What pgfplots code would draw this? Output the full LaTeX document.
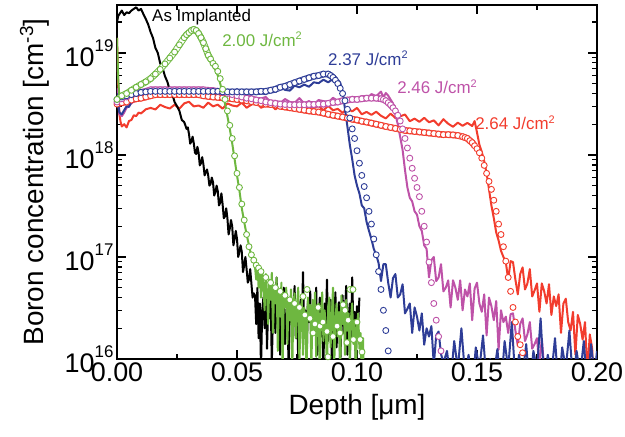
\documentclass[border=0pt]{standalone}
\usepackage{pgfplots}
\usepackage{pgfplotstable}
\pgfplotsset{compat=1.18}
\usepackage{fontspec}
\setmainfont{Liberation Sans}
\definecolor{cgreen}{RGB}{110,183,64}
\definecolor{cblue}{RGB}{46,61,151}
\definecolor{cmag}{RGB}{190,82,168}
\definecolor{cred}{RGB}{242,60,45}
\newcommand\tsup[1]{\raisebox{15bp}{\fontsize{17}{17}\selectfont #1}}
\newcommand\lsup[1]{\raisebox{6.5bp}{\fontsize{11}{11}\selectfont #1}}
% simulated profiles (open circles)
\pgfplotstableread[row sep=\\]{
x y\\ 0 3.15e18\\ 0.002 3.25e18\\ 0.004 3.3e18\\ 0.006 3.45e18\\ 0.008 3.55e18\\ 0.010 3.6e18\\ 0.012 3.7e18\\ 0.014 3.8e18\\ 0.016 3.9e18\\ 0.018 3.9e18\\ 0.020 3.9e18\\ 0.022 3.9e18\\ 0.024 3.9e18\\ 0.026 3.9e18\\ 0.028 3.9e18\\ 0.030 3.9e18\\ 0.032 3.9e18\\ 0.034 3.9e18\\ 0.036 3.8e18\\ 0.038 3.75e18\\ 0.040 3.7e18\\ 0.042 3.67e18\\ 0.044 3.63e18\\ 0.046 3.6e18\\ 0.048 3.55e18\\ 0.050 3.5e18\\ 0.052 3.45e18\\ 0.054 3.4e18\\ 0.056 3.33e18\\ 0.058 3.27e18\\ 0.060 3.2e18\\ 0.062 3.15e18\\ 0.064 3.12e18\\ 0.066 3.08e18\\ 0.068 3.0e18\\ 0.070 2.95e18\\ 0.072 2.9e18\\ 0.074 2.85e18\\ 0.076 2.8e18\\ 0.078 2.75e18\\ 0.080 2.7e18\\ 0.082 2.66e18\\ 0.084 2.63e18\\ 0.086 2.57e18\\ 0.088 2.5e18\\ 0.090 2.45e18\\ 0.092 2.4e18\\ 0.094 2.35e18\\ 0.096 2.3e18\\ 0.098 2.24e18\\ 0.100 2.2e18\\ 0.102 2.14e18\\ 0.104 2.1e18\\ 0.106 2.05e18\\ 0.108 2.0e18\\ 0.110 1.95e18\\ 0.112 1.9e18\\ 0.114 1.86e18\\ 0.116 1.82e18\\ 0.118 1.78e18\\ 0.120 1.74e18\\ 0.122 1.72e18\\ 0.124 1.7e18\\ 0.126 1.68e18\\ 0.128 1.66e18\\ 0.130 1.64e18\\ 0.132 1.62e18\\ 0.134 1.6e18\\ 0.136 1.58e18\\ 0.138 1.58e18\\ 0.140 1.57e18\\ 0.142 1.55e18\\ 0.144 1.51e18\\ 0.145 1.48e18\\ 0.146 1.45e18\\ 0.147 1.38e18\\ 0.148 1.32e18\\ 0.149 1.23e18\\ 0.150 1.15e18\\ 0.151 1.05e18\\ 0.152 9.3e17\\ 0.153 7.9e17\\ 0.154 6.6e17\\ 0.155 5.5e17\\ 0.156 4.6e17\\ 0.157 3.6e17\\ 0.158 2.8e17\\ 0.159 2.1e17\\ 0.160 1.66e17\\ 0.161 1.26e17\\ 0.162 9.1e16\\ 0.163 6.3e16\\ 0.164 4.6e16\\ 0.165 3.2e16\\ 0.166 2.3e16\\ 0.167 1.66e16\\ 0.168 1.38e16\\ 0.169 1.15e16\\ 0.170 9.3e15\\
}\simred
\pgfplotstableread[row sep=\\]{
x y\\ 0 3.3e18\\ 0.002 3.55e18\\ 0.004 3.7e18\\ 0.006 3.9e18\\ 0.008 4.0e18\\ 0.010 4.1e18\\ 0.012 4.2e18\\ 0.014 4.35e18\\ 0.016 4.35e18\\ 0.018 4.35e18\\ 0.020 4.35e18\\ 0.022 4.35e18\\ 0.024 4.35e18\\ 0.026 4.35e18\\ 0.028 4.35e18\\ 0.030 4.35e18\\ 0.032 4.35e18\\ 0.034 4.35e18\\ 0.036 4.35e18\\ 0.038 4.3e18\\ 0.040 4.27e18\\ 0.042 4.2e18\\ 0.044 4.1e18\\ 0.046 4.0e18\\ 0.048 3.9e18\\ 0.050 3.8e18\\ 0.052 3.7e18\\ 0.054 3.6e18\\ 0.056 3.55e18\\ 0.058 3.45e18\\ 0.060 3.4e18\\ 0.062 3.3e18\\ 0.064 3.25e18\\ 0.066 3.2e18\\ 0.068 3.15e18\\ 0.070 3.12e18\\ 0.072 3.1e18\\ 0.074 3.1e18\\ 0.076 3.1e18\\ 0.078 3.1e18\\ 0.080 3.12e18\\ 0.082 3.12e18\\ 0.084 3.15e18\\ 0.086 3.15e18\\ 0.088 3.2e18\\ 0.090 3.27e18\\ 0.092 3.3e18\\ 0.094 3.4e18\\ 0.096 3.45e18\\ 0.098 3.5e18\\ 0.100 3.5e18\\ 0.102 3.55e18\\ 0.104 3.6e18\\ 0.106 3.6e18\\ 0.108 3.6e18\\ 0.110 3.55e18\\ 0.111 3.5e18\\ 0.112 3.4e18\\ 0.113 3.25e18\\ 0.114 3.1e18\\ 0.115 2.9e18\\ 0.116 2.7e18\\ 0.117 2.45e18\\ 0.118 2.15e18\\ 0.119 1.8e18\\ 0.120 1.45e18\\ 0.121 1.17e18\\ 0.122 9.3e17\\ 0.123 7.4e17\\ 0.124 5.9e17\\ 0.125 4.8e17\\ 0.126 3.9e17\\ 0.127 2.8e17\\ 0.128 2.0e17\\ 0.129 1.4e17\\ 0.130 8.9e16\\ 0.131 5.6e16\\ 0.132 3.5e16\\ 0.133 2.4e16\\ 0.134 1.66e16\\ 0.135 1.2e16\\ 0.136 8.9e15\\
}\simmag
\pgfplotstableread[row sep=\\]{
x y\\ 0 3.5e18\\ 0.002 3.7e18\\ 0.004 3.8e18\\ 0.006 3.9e18\\ 0.008 4.0e18\\ 0.010 4.1e18\\ 0.012 4.15e18\\ 0.014 4.2e18\\ 0.016 4.2e18\\ 0.018 4.2e18\\ 0.020 4.2e18\\ 0.022 4.2e18\\ 0.024 4.2e18\\ 0.026 4.2e18\\ 0.028 4.2e18\\ 0.030 4.2e18\\ 0.032 4.2e18\\ 0.034 4.2e18\\ 0.036 4.2e18\\ 0.038 4.2e18\\ 0.040 4.2e18\\ 0.042 4.2e18\\ 0.044 4.15e18\\ 0.046 4.15e18\\ 0.048 4.15e18\\ 0.050 4.15e18\\ 0.052 4.15e18\\ 0.054 4.15e18\\ 0.056 4.15e18\\ 0.058 4.15e18\\ 0.060 4.2e18\\ 0.062 4.2e18\\ 0.064 4.3e18\\ 0.066 4.4e18\\ 0.068 4.6e18\\ 0.070 4.7e18\\ 0.072 4.9e18\\ 0.074 5.1e18\\ 0.076 5.3e18\\ 0.078 5.5e18\\ 0.080 5.7e18\\ 0.082 5.9e18\\ 0.084 6.0e18\\ 0.086 6.2e18\\ 0.088 6.2e18\\ 0.089 6.0e18\\ 0.090 5.75e18\\ 0.091 5.4e18\\ 0.092 5.0e18\\ 0.093 4.5e18\\ 0.094 4.0e18\\ 0.095 3.4e18\\ 0.096 2.8e18\\ 0.097 2.3e18\\ 0.098 1.8e18\\ 0.099 1.45e18\\ 0.100 1.1e18\\ 0.101 8.3e17\\ 0.102 6.3e17\\ 0.103 4.9e17\\ 0.104 3.8e17\\ 0.105 2.8e17\\ 0.106 2.1e17\\ 0.107 1.5e17\\ 0.108 1.05e17\\ 0.109 7.2e16\\ 0.110 4.8e16\\ 0.111 3.0e16\\ 0.112 1.9e16\\ 0.113 1.2e16\\ 0.114 8e15\\
}\simblue
\pgfplotstableread[row sep=\\]{
x y\\ 0 3.5e18\\ 0.002 3.8e18\\ 0.004 4.0e18\\ 0.006 4.3e18\\ 0.008 4.6e18\\ 0.010 4.9e18\\ 0.012 5.2e18\\ 0.014 5.6e18\\ 0.016 6.2e18\\ 0.018 6.9e18\\ 0.020 7.8e18\\ 0.022 8.9e18\\ 0.024 1.02e19\\ 0.026 1.2e19\\ 0.028 1.41e19\\ 0.029 1.51e19\\ 0.030 1.58e19\\ 0.031 1.66e19\\ 0.032 1.7e19\\ 0.033 1.66e19\\ 0.034 1.55e19\\ 0.035 1.41e19\\ 0.036 1.26e19\\ 0.037 1.1e19\\ 0.038 9.5e18\\ 0.039 8.7e18\\ 0.040 7.9e18\\ 0.041 7.4e18\\ 0.042 6.6e18\\ 0.043 5.6e18\\ 0.044 4.4e18\\ 0.045 3.5e18\\ 0.046 2.7e18\\ 0.047 1.95e18\\ 0.048 1.45e18\\ 0.049 9.8e17\\ 0.050 6.6e17\\ 0.051 4.8e17\\ 0.052 3.3e17\\ 0.053 2.3e17\\ 0.054 1.66e17\\ 0.055 1.26e17\\ 0.056 1.05e17\\ 0.057 9.3e16\\ 0.058 8.3e16\\ 0.059 7.8e16\\ 0.060 7.2e16\\ 0.062 6.3e16\\ 0.064 5.6e16\\ 0.066 5.0e16\\ 0.068 4.6e16\\ 0.070 4.2e16\\ 0.072 3.8e16\\ 0.074 3.5e16\\ 0.076 3.2e16\\ 0.0775 4.1e16\\ 0.0783 2.7e16\\ 0.0792 4.8e16\\ 0.0804 2.5e16\\ 0.0817 1.8e16\\ 0.0825 2.2e16\\ 0.0838 3.2e16\\ 0.0846 2.1e16\\ 0.0858 2.3e16\\ 0.0875 1.86e16\\ 0.0879 1.05e16\\ 0.0900 1.66e16\\ 0.0917 2.1e16\\ 0.0929 1.8e16\\ 0.0942 3.4e16\\ 0.0950 3.0e16\\ 0.0958 1.45e16\\ 0.0963 2.4e16\\ 0.0971 4.8e16\\ 0.0983 4.8e16\\ 0.0985 1.55e16\\ 0.1000 2.3e16\\ 0.1013 1.55e16\\ 0.1021 1.17e16\\
}\simgreen
\begin{document}
\begin{tikzpicture}
\begin{axis}[
  scale only axis, width=480bp, height=354bp,
  ymode=log, xmin=0, xmax=0.2, ymin=1e16, ymax=2.95e19,
  xtick={0,0.05,0.1,0.15,0.2},
  xticklabels={0.00,0.05,0.10,0.15,0.20},
  minor xtick={0.025,0.075,0.125,0.175},
  ytick={1e16,1e17,1e18,1e19},
  yticklabels={10\tsup{16},10\tsup{17},10\tsup{18},10\tsup{19}},
  minor ytick={2e16,3e16,4e16,5e16,6e16,7e16,8e16,9e16,2e17,3e17,4e17,5e17,6e17,7e17,8e17,9e17,2e18,3e18,4e18,5e18,6e18,7e18,8e18,9e18,2e19},
  tick align=inside, major tick length=9bp, minor tick length=5bp,
  axis line style={line width=2.2bp},
  every tick/.style={line width=1.4bp, black},
  tick label style={font=\fontsize{27}{30}\selectfont},
  xlabel={Depth [μm]},
  ylabel={Boron concentration [cm\raisebox{10bp}{\fontsize{19}{19}\selectfont -3}]},
  label style={font=\fontsize{28}{32}\selectfont, inner sep=0pt},
  xlabel style={at={(axis description cs:0.5,-0.158)}, anchor=base},
  ylabel style={at={(axis description cs:-0.154,0.5)}, anchor=base},
  every axis plot/.append style={line join=round},
  sims/.style={line width=2bp, no markers},
  tube/.style={no markers, line width=0.9bp, double=white, double distance=4.8bp},
  simu/.style={only marks, mark=*, mark size=3bp, mark options={fill=white, line width=0.9bp}},
]
% ---------- red SIMS 2.64
\addplot[sims, cred] coordinates {
(0,1.4e19)(0.0005,5.0e18)(0.001,2.5e18)(0.0015,2.1e18)(0.002,1.9e18)(0.003,2.0e18)(0.004,1.86e18)(0.005,2.15e18)(0.006,2.2e18)(0.007,2.45e18)(0.008,2.4e18)(0.009,2.6e18)(0.010,2.55e18)(0.012,2.8e18)
(0.014,2.89e18)(0.016,2.79e18)(0.018,3.1e18)(0.020,2.95e18)(0.022,2.85e18)(0.024,3.11e18)(0.026,2.84e18)(0.028,3.2e18)(0.030,3.32e18)(0.032,2.99e18)(0.034,3.05e18)(0.036,2.9e18)(0.038,3.26e18)(0.040,2.99e18)(0.042,3.11e18)(0.044,2.84e18)(0.046,3.2e18)(0.048,3.05e18)(0.050,2.99e18)(0.052,3.26e18)(0.054,2.9e18)(0.056,3.11e18)(0.058,3.32e18)(0.060,2.9e18)(0.062,3.03e18)(0.064,3.17e18)(0.066,2.79e18)(0.068,3.05e18)(0.070,2.91e18)(0.072,3.11e18)(0.074,3.29e18)(0.076,2.84e18)(0.078,3.03e18)(0.080,2.73e18)(0.082,2.9e18)(0.084,3.02e18)(0.086,2.74e18)(0.088,3.02e18)(0.090,2.74e18)(0.092,2.83e18)(0.094,2.58e18)(0.096,2.86e18)(0.098,2.67e18)(0.100,2.89e18)(0.102,2.5e18)(0.104,2.64e18)(0.106,2.47e18)(0.108,2.65e18)(0.110,2.42e18)(0.112,2.28e18)(0.114,2.54e18)(0.116,2.3e18)(0.118,2.39e18)(0.120,2.49e18)(0.122,2.14e18)(0.124,2.27e18)(0.126,2.11e18)(0.128,2.31e18)(0.130,2.09e18)(0.132,2.18e18)(0.134,1.95e18)(0.136,2.24e18)(0.138,2.02e18)(0.140,1.89e18)(0.142,2.07e18)(0.144,1.93e18)(0.146,2.06e18)(0.148,1.92e18)(0.149,2.15e18)(0.150,1.66e18)
(0.151,1.26e18)(0.152,1.07e18)(0.153,8.7e17)(0.154,6.6e17)(0.155,4.6e17)(0.156,3.2e17)(0.157,2.4e17)(0.158,1.74e17)(0.159,1.45e17)(0.160,1.15e17)(0.161,1.0e17)
(0.162,8.9e16)(0.163,6.0e16)(0.164,9.1e16)(0.165,8.9e16)(0.166,6.0e16)(0.167,4.3e16)(0.168,6.8e16)(0.169,7.9e16)(0.170,4.8e16)(0.171,5.5e16)(0.172,7.6e16)(0.173,4.1e16)(0.174,4.7e16)(0.175,5.5e16)(0.176,2.9e16)(0.177,5.5e16)(0.178,4.6e16)(0.179,3.5e16)(0.180,5.4e16)(0.181,2.7e16)(0.182,4.1e16)(0.183,3.3e16)(0.184,4.3e16)(0.185,1.8e16)(0.186,3.5e16)(0.187,3.9e16)(0.188,2.3e16)(0.189,1.9e16)(0.190,2.9e16)(0.191,1.1e16)(0.192,2.7e16)(0.193,2.2e16)(0.194,1.55e16)(0.195,2.3e16)(0.196,7.4e15)(0.197,1.74e16)(0.198,1.26e16)(0.1985,6e15)
};
\addplot[tube, cred, restrict x to domain=0:0.149] table {\simred};
\addplot[simu, cred] table {\simred};
% ---------- magenta SIMS 2.46
\addplot[sims, cmag] coordinates {
(0,4.5e18)(0.0005,3.2e18)(0.001,2.5e18)(0.002,2.4e18)(0.003,2.6e18)(0.004,2.9e18)(0.006,3.2e18)(0.008,3.5e18)(0.010,3.6e18)(0.012,3.9e18)(0.014,3.8e18)
(0.016,4.08e18)(0.018,3.88e18)(0.020,4.2e18)(0.022,4.0e18)(0.024,3.8e18)(0.026,4.12e18)(0.028,4.28e18)(0.030,3.92e18)(0.032,4.04e18)(0.034,3.82e18)(0.036,4.19e18)(0.038,3.92e18)(0.040,3.78e18)(0.042,4.02e18)(0.044,3.79e18)(0.046,4.07e18)(0.048,3.6e18)(0.050,3.77e18)(0.052,3.59e18)(0.054,3.8e18)(0.056,3.57e18)(0.058,3.34e18)(0.060,3.57e18)(0.062,3.7e18)(0.064,3.3e18)(0.066,3.4e18)(0.068,3.22e18)(0.070,3.53e18)(0.072,3.31e18)(0.074,3.23e18)(0.076,3.6e18)(0.078,3.2e18)(0.080,3.37e18)(0.082,3.14e18)(0.084,3.45e18)(0.086,3.37e18)(0.088,3.26e18)(0.090,3.63e18)(0.092,3.39e18)(0.094,3.55e18)(0.096,3.34e18)(0.098,3.73e18)(0.100,3.55e18)(0.102,3.78e18)(0.104,3.52e18)(0.106,3.95e18)(0.108,3.77e18)(0.110,4.17e18)(0.111,3.65e18)(0.112,4.05e18)(0.113,3.81e18)(0.114,3.49e18)(0.115,3.2e18)
(0.116,2.5e18)(0.117,2.0e18)(0.118,1.5e18)(0.119,1.12e18)(0.120,7.1e17)(0.121,4.8e17)(0.122,3.8e17)(0.123,3.5e17)(0.124,2.8e17)(0.125,2.6e17)(0.126,2.0e17)(0.127,1.8e17)(0.128,1.3e17)(0.129,1.2e17)
(0.130,6.3e16)(0.131,9.3e16)(0.132,1.0e17)(0.133,5.8e16)(0.134,6.3e16)(0.135,8.5e16)(0.136,4.6e16)(0.137,5.0e16)(0.138,5.9e16)(0.139,3.2e16)(0.140,5.9e16)(0.141,5.0e16)(0.142,3.8e16)(0.143,5.9e16)(0.144,3.0e16)(0.145,4.8e16)(0.146,4.1e16)(0.147,5.5e16)(0.148,2.4e16)(0.149,4.9e16)(0.150,5.6e16)(0.151,3.5e16)(0.152,2.9e16)(0.153,4.3e16)(0.154,1.7e16)(0.155,4.0e16)(0.156,3.3e16)(0.157,2.4e16)(0.158,3.7e16)(0.159,1.23e16)(0.160,3.0e16)(0.161,2.3e16)(0.162,2.6e16)(0.163,1.8e16)(0.164,2.75e16)(0.165,2.8e16)(0.166,1.9e16)(0.167,1.35e16)(0.168,2.2e16)(0.169,2.5e16)(0.170,1.5e16)(0.171,1.74e16)(0.172,2.3e16)(0.173,1.26e16)(0.174,1.4e16)(0.175,1.6e16)(0.176,8.5e15)(0.177,1.6e16)(0.178,8e15)
};
\addplot[tube, cmag, restrict x to domain=0:0.115] table {\simmag};
\addplot[simu, cmag] table {\simmag};
% ---------- blue SIMS 2.37
\addplot[sims, cblue] coordinates {
(0,4.0e18)(0.0005,3.2e18)(0.001,2.6e18)(0.002,2.5e18)(0.003,2.75e18)(0.004,3.0e18)(0.005,2.95e18)(0.006,3.3e18)(0.008,3.5e18)(0.010,3.7e18)(0.012,3.6e18)(0.014,3.9e18)
(0.016,4.17e18)(0.018,3.89e18)(0.020,4.29e18)(0.022,4.05e18)(0.024,3.97e18)(0.026,4.37e18)(0.028,4.09e18)(0.030,3.85e18)(0.032,4.21e18)(0.034,4.0e18)(0.036,4.13e18)(0.038,4.33e18)(0.040,3.93e18)(0.042,4.09e18)(0.044,3.81e18)(0.046,4.25e18)(0.048,4.05e18)(0.050,4.41e18)(0.052,3.97e18)(0.054,4.17e18)(0.056,3.89e18)(0.058,4.29e18)(0.060,4.09e18)(0.062,3.93e18)(0.064,4.48e18)(0.066,4.12e18)(0.068,4.68e18)(0.070,4.34e18)(0.072,4.27e18)(0.074,4.77e18)(0.076,4.6e18)(0.078,4.89e18)(0.080,4.66e18)(0.082,5.15e18)(0.084,5.05e18)(0.086,5.46e18)(0.088,5.15e18)(0.090,5.56e18)(0.091,5.19e18)(0.092,5.46e18)(0.093,5.1e18)
(0.094,4.2e18)(0.095,2.8e18)(0.096,1.9e18)(0.097,1.26e18)(0.098,9.1e17)(0.099,6.3e17)(0.100,5.0e17)(0.101,4.2e17)(0.102,3.2e17)(0.103,3.0e17)(0.104,2.2e17)(0.105,1.8e17)(0.106,1.5e17)(0.107,1.2e17)(0.108,1.05e17)
(0.109,8.7e16)(0.110,5.8e16)(0.111,8.5e16)(0.112,8.5e16)(0.113,5.6e16)(0.114,4.0e16)(0.115,6.2e16)(0.116,6.8e16)(0.117,4.0e16)(0.118,4.3e16)(0.119,5.4e16)(0.120,2.8e16)(0.121,3.1e16)(0.122,3.5e16)(0.123,1.8e16)(0.124,3.2e16)(0.125,2.6e16)(0.126,1.9e16)(0.127,2.8e16)(0.128,1.38e16)(0.129,2.0e16)(0.130,1.66e16)(0.131,2.1e16)(0.132,8.7e15)(0.133,1.7e16)(0.134,1.86e16)(0.135,1.12e16)(0.136,9.1e15)
(0.1375,1.2e16)(0.139,6e15)(0.1405,1.5e16)(0.142,8e15)(0.1435,2.0e16)(0.145,7e15)(0.1465,1.1e16)(0.148,5e15)(0.1495,1.3e16)(0.151,8e15)(0.1525,1.7e16)(0.154,6e15)(0.1555,1.0e16)(0.157,7e15)(0.1585,1.25e16)(0.160,5e15)(0.1615,1.5e16)(0.163,8e15)(0.1645,2.3e16)(0.166,6e15)(0.1675,1.1e16)(0.169,7e15)(0.1705,1.4e16)(0.172,5e15)(0.1735,1.2e16)(0.175,8e15)(0.1765,2.5e16)(0.178,6e15)(0.1795,1.1e16)(0.181,7e15)(0.1825,1.6e16)(0.184,5e15)(0.1855,1.3e16)(0.187,8e15)(0.1885,1.9e16)(0.190,6e15)(0.1915,1.2e16)(0.193,7e15)(0.1945,1.5e16)(0.196,5e15)(0.1975,1.4e16)(0.199,7e15)(0.200,1.2e16)
};
\addplot[tube, cblue, restrict x to domain=0:0.091] table {\simblue};
\addplot[simu, cblue] table {\simblue};
% ---------- black SIMS as implanted
\addplot[sims, black] coordinates {
(0,2.0e19)(0.0005,2.3e19)(0.001,2.4e19)(0.002,2.6e19)(0.003,2.35e19)(0.004,2.5e19)(0.005,2.45e19)(0.006,2.6e19)(0.007,2.7e19)(0.008,2.8e19)(0.009,2.6e19)(0.010,2.7e19)(0.011,2.4e19)(0.012,2.15e19)(0.013,1.9e19)(0.014,1.6e19)(0.015,1.4e19)(0.016,1.12e19)(0.017,1.0e19)(0.018,7.9e18)(0.019,7.1e18)(0.020,5.9e18)(0.021,5.2e18)(0.022,4.3e18)(0.023,4.0e18)(0.024,3.3e18)(0.025,3.0e18)(0.026,2.7e18)(0.027,2.2e18)(0.028,2.1e18)(0.029,1.8e18)(0.0295,1.86e18)(0.030,1.6e18)(0.0305,1.29e18)(0.031,1.35e18)(0.0315,1.51e18)(0.032,1.3e18)(0.0325,1.05e18)(0.033,1.02e18)(0.0335,1.2e18)(0.034,1.05e18)(0.0345,7.9e17)(0.035,8.3e17)(0.0355,9.5e17)(0.036,8.1e17)(0.0365,6.3e17)(0.037,6.8e17)(0.0375,7.2e17)(0.038,6.3e17)(0.0385,5.0e17)(0.039,5.2e17)(0.0395,6.0e17)(0.040,5.4e17)(0.0405,4.0e17)(0.041,4.3e17)(0.0415,5.0e17)(0.042,4.4e17)(0.0425,3.2e17)(0.043,3.4e17)(0.0435,4.2e17)(0.044,3.3e17)(0.0445,2.4e17)(0.045,2.5e17)(0.0455,3.0e17)(0.046,2.4e17)(0.0465,1.66e17)(0.047,1.9e17)(0.0475,2.3e17)(0.048,2.0e17)(0.0485,1.3e17)(0.049,1.5e17)(0.0495,1.8e17)(0.050,1.5e17)(0.0505,1.0e17)(0.051,1.12e17)(0.0515,1.3e17)(0.052,1.12e17)(0.0525,7.1e16)(0.053,8.3e16)(0.0535,1.0e17)(0.054,7.6e16)(0.0545,5.6e16)(0.055,6.0e16)(0.0555,7.6e16)(0.056,5.5e16)(0.0565,4.0e16)(0.057,4.4e16)
(0.0575,4.2e16)(0.058,2.2e16)(0.0585,5.0e16)(0.059,1.6e16)(0.0595,3.5e16)(0.060,8e15)(0.0605,3.0e16)(0.061,4.0e16)(0.0615,2.0e16)(0.062,5.6e16)(0.0625,1.26e16)(0.063,3.3e16)(0.0635,2.5e16)(0.064,4.5e16)(0.0645,9e15)(0.065,2.8e16)(0.0655,3.8e16)(0.066,1.8e16)(0.0665,6.3e16)(0.067,2.2e16)(0.0675,3.2e16)(0.068,1.1e16)(0.0685,4.0e16)(0.069,2.6e16)(0.0695,5.0e16)(0.070,1.4e16)(0.0705,2.4e16)(0.071,3.5e16)(0.0715,8e15)(0.072,3.0e16)(0.0725,4.2e16)(0.073,2.0e16)(0.0735,2.8e16)(0.074,5.2e16)(0.0745,1.6e16)(0.075,3.2e16)(0.0755,1.0e16)(0.076,2.5e16)(0.0765,3.8e16)(0.077,2.1e16)(0.0775,7.1e16)(0.078,1.8e16)(0.0785,3.0e16)(0.079,9e15)(0.0795,3.5e16)(0.080,2.3e16)(0.0805,4.6e16)(0.081,1.26e16)(0.0815,2.8e16)(0.082,3.3e16)(0.0825,1.9e16)(0.083,5.0e16)(0.0835,1.1e16)(0.084,2.5e16)(0.0845,4.0e16)(0.085,1.66e16)(0.0855,2.95e16)(0.086,8.3e15)(0.0865,3.5e16)(0.087,2.2e16)(0.0875,6.0e16)(0.088,1.5e16)(0.0885,2.6e16)(0.089,3.8e16)(0.0895,1.0e16)(0.090,3.2e16)(0.0905,2.0e16)(0.091,4.5e16)(0.0915,1.3e16)(0.092,2.75e16)(0.0925,3.6e16)(0.093,8e15)(0.0935,2.4e16)(0.094,4.2e16)(0.0945,1.8e16)(0.095,3.0e16)(0.0955,5.2e16)(0.096,1.1e16)(0.0965,2.5e16)(0.097,3.5e16)(0.0975,1.6e16)(0.098,6.3e16)(0.0985,2.0e16)(0.099,2.9e16)(0.0995,9e15)(0.100,3.3e16)(0.1005,2.2e16)(0.101,4.0e16)
};
% ---------- green SIMS 2.00
\addplot[sims, cgreen] coordinates {
(0,1.4e19)(0.0005,5.6e18)(0.001,3.6e18)(0.002,3.5e18)(0.003,4.0e18)(0.004,3.8e18)(0.005,4.3e18)(0.006,4.1e18)(0.007,4.6e18)(0.008,4.4e18)(0.009,4.9e18)(0.010,4.7e18)(0.011,5.2e18)(0.012,5.0e18)(0.013,5.6e18)(0.014,5.4e18)(0.015,6.0e18)(0.016,5.9e18)(0.017,6.8e18)(0.018,6.6e18)(0.019,7.6e18)(0.020,7.4e18)(0.021,8.5e18)(0.022,8.3e18)(0.023,9.8e18)(0.024,9.5e18)(0.025,1.12e19)(0.026,1.12e19)(0.027,1.32e19)(0.028,1.32e19)(0.029,1.5e19)(0.030,1.48e19)(0.031,1.62e19)(0.032,1.58e19)(0.033,1.58e19)(0.034,1.4e19)(0.035,1.32e19)(0.036,1.15e19)(0.037,1.02e19)(0.038,8.9e18)(0.039,8.1e18)(0.040,7.4e18)(0.041,6.8e18)(0.042,6.0e18)(0.043,5.0e18)(0.044,4.0e18)(0.045,3.2e18)(0.046,2.4e18)(0.047,1.8e18)(0.048,1.3e18)(0.049,9.1e17)(0.050,6.3e17)(0.051,4.5e17)(0.052,3.0e17)(0.053,2.2e17)(0.054,1.66e17)(0.055,1.3e17)(0.056,1.0e17)(0.057,8.9e16)
(0.0575,8.0e16)(0.058,6.0e16)(0.0585,8.5e16)(0.059,5.0e16)(0.0595,7.5e16)(0.060,4.0e16)(0.0605,7.0e16)(0.061,5.5e16)(0.0615,3.0e16)(0.062,6.8e16)(0.0625,4.5e16)(0.063,2.2e16)(0.0635,6.0e16)(0.064,3.8e16)(0.0645,7.0e16)(0.065,1.8e16)(0.0655,5.2e16)(0.066,3.5e16)(0.0665,6.3e16)(0.067,1.2e16)(0.0675,4.5e16)(0.068,2.6e16)(0.0685,5.6e16)(0.069,8e15)(0.0695,4.2e16)(0.070,3.2e16)(0.0705,5.0e16)(0.071,1.4e16)(0.0715,3.8e16)(0.072,2.4e16)(0.0725,4.8e16)(0.073,7e15)(0.0735,3.5e16)(0.074,4.4e16)(0.0745,1.6e16)(0.075,3.3e16)(0.0755,5.0e16)(0.076,9e15)(0.0765,2.8e16)(0.077,3.8e16)(0.0775,1.1e16)(0.078,3.2e16)(0.0785,2.2e16)(0.079,7e15)(0.0795,4.0e16)(0.080,2.5e16)(0.0805,3.4e16)(0.081,8e15)(0.0815,3.8e16)(0.082,1.8e16)(0.0825,4.5e16)(0.083,1.05e16)(0.0835,2.8e16)(0.084,3.5e16)(0.0845,6.3e15)(0.085,2.5e16)(0.0855,4.5e16)(0.086,1.5e16)(0.0865,3.0e16)(0.087,2.0e16)(0.0875,7.6e15)(0.088,3.3e16)(0.0885,4.0e16)(0.089,1.3e16)(0.0895,2.6e16)(0.090,5.0e16)(0.0905,8.3e15)(0.091,2.4e16)(0.0915,3.5e16)(0.092,1.66e16)(0.0925,2.9e16)(0.093,7e15)(0.0935,4.2e16)(0.094,2.2e16)(0.0945,3.2e16)(0.095,1.1e16)(0.0955,3.8e16)(0.096,1.9e16)(0.0965,2.8e16)(0.097,8e15)(0.0975,2.5e16)(0.098,3.5e16)(0.0985,1.4e16)(0.099,2.4e16)(0.0995,7e15)(0.100,2.0e16)(0.1005,2.8e16)(0.101,1.26e16)(0.1015,1.8e16)(0.102,6.3e15)(0.1025,1.6e16)(0.103,5e15)
};
\addplot[tube, cgreen, restrict x to domain=0:0.039] table {\simgreen};
\addplot[simu, cgreen] table {\simgreen};
% ---------- labels
\node[anchor=base west, inner sep=0pt, font=\fontsize{17}{20}\selectfont, black] at (axis cs:0.0146,2.04e19) {As Implanted};
\node[anchor=base west, inner sep=0pt, font=\fontsize{17}{20}\selectfont, text=cgreen] at (axis cs:0.0438,1.16e19) {2.00 J/cm\lsup{2}};
\node[anchor=base west, inner sep=0pt, font=\fontsize{17}{20}\selectfont, text=cblue] at (axis cs:0.0879,7.6e18) {2.37 J/cm\lsup{2}};
\node[anchor=base west, inner sep=0pt, font=\fontsize{17}{20}\selectfont, text=cmag] at (axis cs:0.1167,4.0e18) {2.46 J/cm\lsup{2}};
\node[anchor=base west, inner sep=0pt, font=\fontsize{17}{20}\selectfont, text=cred] at (axis cs:0.1492,1.76e18) {2.64 J/cm\lsup{2}};
\end{axis}
\pgfresetboundingbox
\useasboundingbox (-117bp,-78bp) rectangle (508bp,359bp);
\end{tikzpicture}
\end{document}
